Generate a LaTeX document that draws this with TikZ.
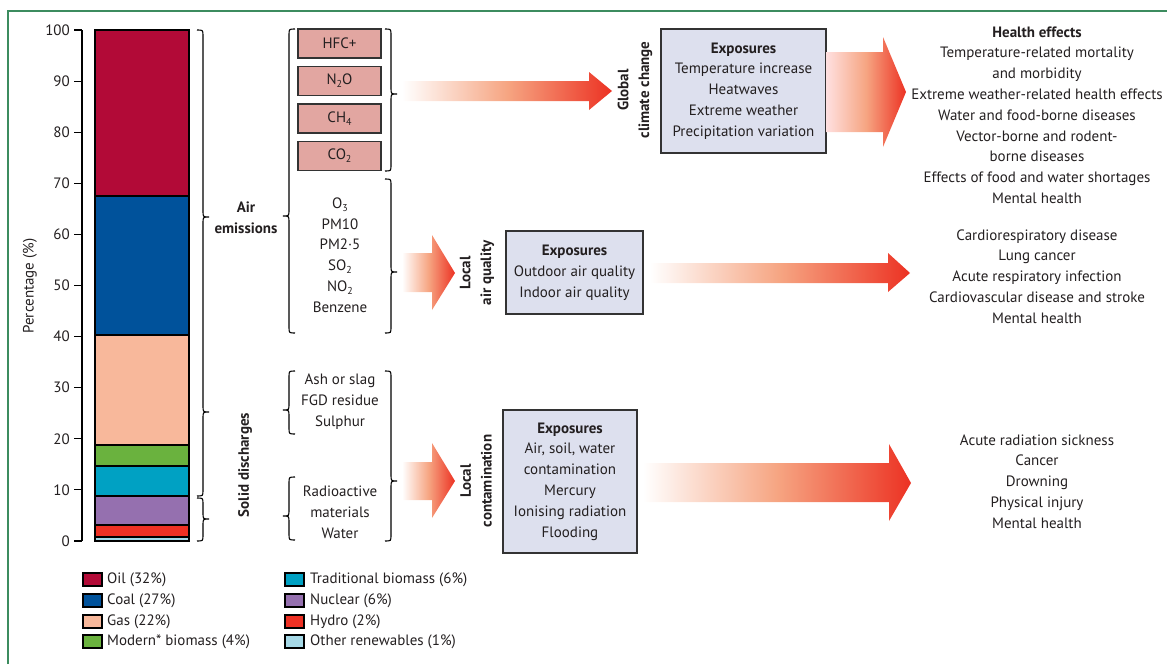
\documentclass[tikz,border=0pt]{standalone}
\usepackage{fontspec}
\setmainfont{PT Sans}
\usetikzlibrary{calc}
\definecolor{txt}{HTML}{231F20}
\definecolor{framecol}{RGB}{60,140,95}
\definecolor{oil}{HTML}{B20A37}
\definecolor{coal}{HTML}{00529B}
\definecolor{gas}{HTML}{F8B89B}
\definecolor{modbio}{HTML}{6AB23E}
\definecolor{tradbio}{HTML}{00A1C3}
\definecolor{nuclear}{HTML}{9570AF}
\definecolor{hydro}{HTML}{EE3124}
\definecolor{otherren}{HTML}{A6D9E7}
\definecolor{gasbox}{HTML}{E2A6A1}
\definecolor{expbox}{HTML}{DDE0EE}
\definecolor{arrred}{RGB}{236,50,35}
\definecolor{arrmid}{RGB}{246,165,130}
\newcommand{\fs}{\fontsize{15}{20.8}\selectfont}
\newcommand{\sbs}[1]{\raisebox{-0.4ex}{\fontsize{10}{10}\selectfont #1}}
\newcommand{\BraceR}[4]{\draw[bracestyle] ({#1-6},#2) .. controls (#1,#2) .. (#1,{#2+6}) -- (#1,{#3-6}) .. controls (#1,#3) .. ({#1+6},#3) .. controls (#1,#3) .. (#1,{#3+6}) -- (#1,{#4-6}) .. controls (#1,#4) .. ({#1-6},#4);}
\newcommand{\BraceL}[4]{\draw[bracestyle] ({#1+6},#2) .. controls (#1,#2) .. (#1,{#2+6}) -- (#1,{#3-6}) .. controls (#1,#3) .. ({#1-6},#3) .. controls (#1,#3) .. (#1,{#3+6}) -- (#1,{#4-6}) .. controls (#1,#4) .. ({#1+6},#4);}
\begin{document}
\begin{tikzpicture}[x=1pt,y=-1pt,
  every node/.style={text=txt, font=\fs},
  bracestyle/.style={draw=black, line width=1.1pt},
  seg/.style={draw=black, line width=1.1pt},
  legsq/.style={draw=black, line width=1.1pt},
  gasnode/.style={draw=black!80, fill=gasbox, line width=1.3pt, minimum width=83pt, minimum height=29pt, inner sep=0pt},
  expnode/.style={draw=black!80, fill=expbox, line width=1.5pt, align=center, inner sep=0pt},
  listnode/.style={align=center, inner sep=0pt},
  rotlab/.style={align=center, rotate=90, inner sep=0pt, font=\fs\bfseries},
  ticklab/.style={anchor=east, inner sep=0pt},
  legtext/.style={anchor=west, inner sep=0pt},
  arrowshade/.style={left color=white, right color=arrred, middle color=arrmid}
]
\useasboundingbox (0,0) rectangle (1167,664);
% frame
\draw[framecol, line width=1.2pt] (8,664) -- (8,11) -- (1167,11);

% axis
\draw[black, line width=1.1pt] (82,30) -- (82,541);
\foreach \v in {0,10,...,100}{
  \pgfmathsetmacro{\yy}{541-5.11*\v}
  \draw[black, line width=1.1pt] (74,\yy) -- (82,\yy);
  \node[ticklab] (tick\v) at (70,\yy) {\v};
}
\node[rotate=90, inner sep=0pt] (ylab) at (30,286) {Percentage (\%)};

% stacked bar
\filldraw[seg, fill=oil] (95,30) rectangle (189,196);
\filldraw[seg, fill=coal] (95,196) rectangle (189,335);
\filldraw[seg, fill=gas] (95,335) rectangle (189,445);
\filldraw[seg, fill=modbio] (95,445) rectangle (189,466);
\filldraw[seg, fill=tradbio] (95,466) rectangle (189,496);
\filldraw[seg, fill=nuclear] (95,496) rectangle (189,525);
\filldraw[seg, fill=hydro] (95,525) rectangle (189,537);
\filldraw[seg, fill=otherren] (95,537) rectangle (189,541);

% first braces
\draw[bracestyle] (197,30) .. controls (203,30) .. (203,36) -- (203,211) .. controls (203,217) .. (209,217) .. controls (203,217) .. (203,223) -- (203,406) .. controls (203,412) .. (209,412) .. controls (203,412) .. (203,418) -- (203,490) .. controls (203,496) .. (197,496);
\BraceR{203}{498}{519}{541}
\node[listnode, font=\fs\bfseries] (airem) at (246,218) {Air\\emissions};
\node[rotlab] (solid) at (245,465) {Solid discharges};

% left braces of middle column
\BraceL{289}{29}{216}{333}
\BraceL{289}{371}{410}{434}
\BraceL{289}{477}{516}{540}

% gas boxes
\node[gasnode] (hfc) at (339.5,43.5) {HFC+};
\node[gasnode] (n2o) at (339.5,81) {N\sbs{2}O};
\node[gasnode] (ch4) at (339.5,118.5) {CH\sbs{4}};
\node[gasnode] (co2) at (339.5,156) {CO\sbs{2}};

\node[listnode] (pollut) at (340,255) {O\sbs{3}\\PM10\\PM2·5\\SO\sbs{2}\\NO\sbs{2}\\Benzene};
\node[listnode] (ash) at (340,401.5) {Ash or slag\\FGD residue\\Sulphur};
\node[listnode] (radio) at (340,512) {Radioactive\\materials\\Water};

% right braces of middle column
\BraceR{391}{29}{94}{171}
\BraceR{391}{179}{272}{333}
\BraceR{391}{371}{481}{541}

% arrows left
\shade[arrowshade] (402,81) -- (589,81) -- (589,72) -- (612,91) -- (589,110) -- (589,101) -- (402,101) -- cycle;
\shade[arrowshade] (402,253) -- (432,253) -- (432,235) -- (455,273) -- (432,310) -- (432,292) -- (402,292) -- cycle;
\shade[arrowshade] (402,462) -- (432,462) -- (432,443) -- (455,481) -- (432,518) -- (432,500) -- (402,500) -- cycle;

% rotated labels
\node[rotlab] (glob) at (635,90) {Global\\climate change};
\node[rotlab] (locair) at (477,273) {Local\\air quality};
\node[rotlab] (loccon) at (476,481) {Local\\contamination};

% exposure boxes
\node[expnode, minimum width=165pt, minimum height=124pt] (exp1) at (743.5,91) {\textbf{Exposures}\\Temperature increase\\Heatwaves\\Extreme weather\\Precipitation variation};
\node[expnode, minimum width=137pt, minimum height=83pt] (exp2) at (574.5,272.5) {\textbf{Exposures}\\Outdoor air quality\\Indoor air quality};
\node[expnode, minimum width=134pt, minimum height=143pt] (exp3) at (570,481.5) {\textbf{Exposures}\\Air, soil, water\\contamination\\Mercury\\Ionising radiation\\Flooding};

% arrows right
\shade[left color=red!12!white, right color=arrred, middle color=arrmid] (826,52) -- (883,52) -- (883,37) -- (906,92) -- (883,147) -- (883,132) -- (826,132) -- cycle;
\shade[arrowshade] (650,263) -- (888,263) -- (888,253) -- (910,273) -- (888,292) -- (888,283) -- (650,283) -- cycle;
\shade[arrowshade] (643,463) -- (889,463) -- (889,444) -- (911,483) -- (889,521) -- (889,502) -- (643,502) -- cycle;

% health effects
\node[listnode] (he1) at (1037,115) {\textbf{Health effects}\\Temperature-related mortality\\and morbidity\\Extreme weather-related health effects\\Water and food-borne diseases\\Vector-borne and rodent-\\borne diseases\\Effects of food and water shortages\\Mental health};
\node[listnode] (he2) at (1037,276.5) {Cardiorespiratory disease\\Lung cancer\\Acute respiratory infection\\Cardiovascular disease and stroke\\Mental health};
\node[listnode] (he3) at (1037,481.5) {Acute radiation sickness\\Cancer\\Drowning\\Physical injury\\Mental health};

% legend
\filldraw[legsq, fill=oil] (83,573) rectangle (102,586);
\filldraw[legsq, fill=coal] (83,594) rectangle (102,607);
\filldraw[legsq, fill=gas] (83,615) rectangle (102,628);
\filldraw[legsq, fill=modbio] (83,635) rectangle (102,648);
\node[legtext] (l1) at (107,579.5) {Oil (32\%)};
\node[legtext] (l2) at (107,600.5) {Coal (27\%)};
\node[legtext] (l3) at (107,621.5) {Gas (22\%)};
\node[legtext] (l4) at (107,641.5) {Modern* biomass (4\%)};
\filldraw[legsq, fill=tradbio] (285,573) rectangle (304,586);
\filldraw[legsq, fill=nuclear] (285,594) rectangle (304,607);
\filldraw[legsq, fill=hydro] (285,615) rectangle (304,628);
\filldraw[legsq, fill=otherren] (285,635) rectangle (304,648);
\node[legtext] (l5) at (310,579.5) {Traditional biomass (6\%)};
\node[legtext] (l6) at (310,600.5) {Nuclear (6\%)};
\node[legtext] (l7) at (310,621.5) {Hydro (2\%)};
\node[legtext] (l8) at (310,641.5) {Other renewables (1\%)};
\end{tikzpicture}
\end{document}
